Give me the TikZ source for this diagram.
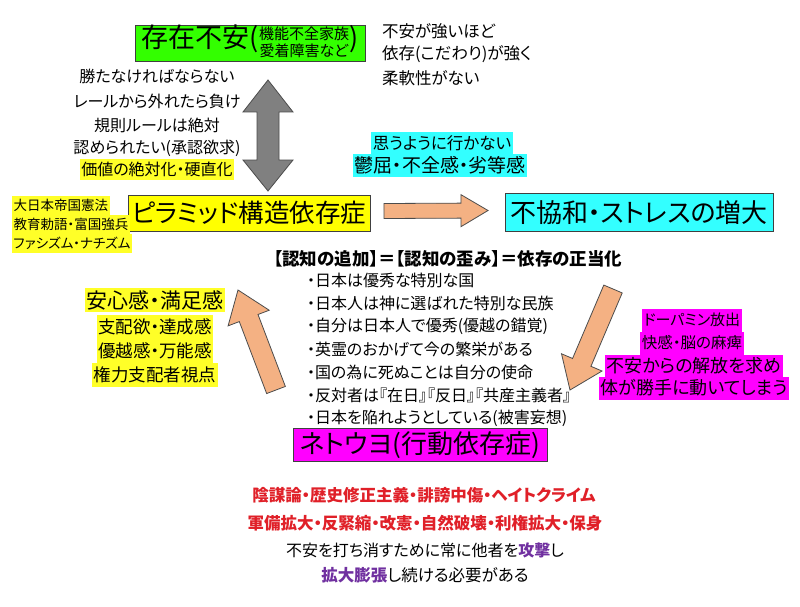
\documentclass[tikz,border=0pt]{standalone}
\usepackage{fontspec}
\setmainfont{Noto Sans CJK JP}[RawFeature=+palt]
\usetikzlibrary{calc}
\definecolor{boxgreen}{RGB}{51,255,0}
\definecolor{boxyellow}{RGB}{255,255,0}
\definecolor{hlyellow}{RGB}{255,255,40}
\definecolor{boxcyan}{RGB}{51,255,255}
\definecolor{boxmag}{RGB}{255,0,255}
\definecolor{arroworange}{RGB}{244,177,131}
\definecolor{arrowgray}{RGB}{128,128,128}
\definecolor{txtred}{RGB}{224,32,40}
\definecolor{txtpurple}{RGB}{112,48,160}
\newcommand\fs[1]{\fontsize{#1}{#1}\selectfont}
\newcommand\fatarrow[6]{%
  \coordinate (#1n) at ($(#3)!#6!(#2)$);
  \draw[fatarrowstyle] ($(#2)!#4!90:(#3)$) -- ($(#1n)!#4!90:(#3)$) -- ($(#1n)!#5!90:(#3)$) -- (#3)
    -- ($(#1n)!#5!-90:(#3)$) -- ($(#1n)!#4!-90:(#3)$) -- ($(#2)!#4!-90:(#3)$) -- cycle;}
\begin{document}
\begin{tikzpicture}[x=1pt,y=-1pt,
  every node/.style={inner sep=0pt,outer sep=0pt},
  mainbox/.style={draw=black!75,line width=0.8pt},
  hl/.style={inner xsep=1.5pt,inner ysep=0pt},
  fatarrowstyle/.style={fill=arroworange,draw=black!70,line width=0.8pt,line join=miter}]
\useasboundingbox (0,0) rectangle (800,607);
\fill[white] (0,0) rectangle (800,607);

% top green box
\node[mainbox,fill=boxgreen,minimum width=230pt,minimum height=36pt] (exist) at (250,43)
  {\fs{27}存在不安(\fontsize{15}{14.5}\selectfont\begin{tabular}{@{}c@{}}機能不全家族\\愛着障害など\end{tabular}\fs{27})};

% top right text
\node[anchor=west] (t1) at (382,31) {\fs{16.5}不安が強いほど};
\node[anchor=west] (t2) at (382,54.5) {\fs{16.5}依存(こだわり)が強く};
\node[anchor=west] (t3) at (382,78) {\fs{16.5}柔軟性がない};

% left list
\node (l1) at (157,76) {\fs{16}勝たなければならない};
\node (l2) at (157,101) {\fs{16}レールから外れたら負け};
\node (l3) at (157,125) {\fs{16}規則ルールは絶対};
\node (l4) at (157,148) {\fs{16}認められたい(承認欲求)};
\node[hl,fill=hlyellow,minimum height=21pt] (l5) at (157,169) {\fs{16}価値の絶対化・硬直化};

% gray double arrow
\draw[fill=arrowgray,draw=black!70,line width=0.8pt]
  (268,80) -- (293,112) -- (279,112) -- (279,160) -- (293,160) -- (268,191)
  -- (243,160) -- (257,160) -- (257,112) -- (243,112) -- cycle;

% cyan text
\node[hl,fill=boxcyan,minimum height=21pt] (c1) at (442,143) {\fs{16.5}思うように行かない};
\node[hl,fill=boxcyan,minimum height=23pt] (c2) at (440,165) {\fs{19}鬱屈・不全感・劣等感};

% yellow box
\node[mainbox,fill=boxyellow,minimum width=242pt,minimum height=36pt] (pyr) at (249,213)
  {\fs{25.5}ピラミッド構造依存症};
\node[anchor=west,hl,fill=hlyellow,minimum height=19pt] (y1) at (12,205) {\fs{13.5}大日本帝国憲法};
\node[anchor=west,hl,fill=hlyellow,minimum height=19pt] (y2) at (12,224) {\fs{13.5}教育勅語・富国強兵};
\node[anchor=west,hl,fill=hlyellow,minimum height=19pt] (y3) at (12,243) {\fs{13.5}ファシズム・ナチズム};

% cyan box
\node[mainbox,fill=boxcyan,minimum width=268pt,minimum height=38pt] (stress) at (639,212.5)
  {\fs{26}不協和・ストレスの増大};

% horizontal arrow
\coordinate (ha) at ($(pyr.east)+(14,-2)$);
\coordinate (hb) at ($(stress.west)+(-17,-2)$);
\fatarrow{h}{ha}{hb}{7.5pt}{16pt}{27pt}

% heading
\node (head) at (448,259) {\fs{17.5}\bfseries 【認知の追加】＝【認知の歪み】＝依存の正当化};

% bullet list
\node[anchor=west] (b1) at (307,280) {\fs{16}・日本は優秀な特別な国};
\node[anchor=west] (b2) at (307,303) {\fs{16}・日本人は神に選ばれた特別な民族};
\node[anchor=west] (b3) at (307,326) {\fs{16}・自分は日本人で優秀(優越の錯覚)};
\node[anchor=west] (b4) at (307,349) {\fs{16}・英霊のおかげて今の繁栄がある};
\node[anchor=west] (b5) at (307,372) {\fs{16}・国の為に死ぬことは自分の使命};
\node[anchor=west] (b6) at (307,395) {\fs{16}・反対者は『在日』『反日』『共産主義者』};
\node[anchor=west] (b7) at (307,418) {\fs{16}・日本を陥れようとしている(被害妄想)};

% right diagonal arrow
\coordinate (rT) at (613,289);
\coordinate (rP) at (570,390);
\fatarrow{r}{rT}{rP}{10pt}{22pt}{30pt}

% left diagonal arrow
\coordinate (lT) at (276,390);
\coordinate (lP) at (238,290);
\fatarrow{l}{lT}{lP}{10pt}{22pt}{30pt}

% left yellow
\node[hl,fill=hlyellow,minimum height=24pt] (s1) at (155,300) {\fs{21}安心感・満足感};
\node[hl,fill=hlyellow,minimum height=24pt] (s2) at (155,327) {\fs{17.5}支配欲・達成感};
\node[hl,fill=hlyellow,minimum height=24pt] (s3) at (155,351) {\fs{17.5}優越感・万能感};
\node[hl,fill=hlyellow,minimum height=24pt] (s4) at (155,375) {\fs{17.5}権力支配者視点};

% right magenta
\node[hl,fill=boxmag,minimum height=23pt] (m1) at (692,320) {\fs{15}ドーパミン放出};
\node[hl,fill=boxmag,minimum height=23pt] (m2) at (692,343) {\fs{15.5}快感・脳の麻痺};
\node[hl,fill=boxmag,minimum height=23pt] (m3) at (694,366) {\fs{18}不安からの解放を求め};
\node[hl,fill=boxmag,minimum height=23pt] (m4) at (694,388) {\fs{18}体が勝手に動いてしまう};

% magenta box
\node[mainbox,fill=boxmag,minimum width=254pt,minimum height=33pt] (neto) at (420,445)
  {\fs{26}ネトウヨ(行動依存症)};

% bottom text
\node[text=txtred] (r1) at (424,495) {\fs{16.5}\bfseries 陰謀論・歴史修正主義・誹謗中傷・ヘイトクライム};
\node[text=txtred] (r2) at (425,523) {\fs{16.5}\bfseries 軍備拡大・反緊縮・改憲・自然破壊・利権拡大・保身};
\node (k1) at (425,550) {\fs{16}不安を打ち消すために常に他者を{\bfseries\color{txtpurple}攻撃}し};
\node (k2) at (425,575) {\fs{16.5}{\bfseries\color{txtpurple}拡大膨張}し続ける必要がある};
\end{tikzpicture}
\end{document}
